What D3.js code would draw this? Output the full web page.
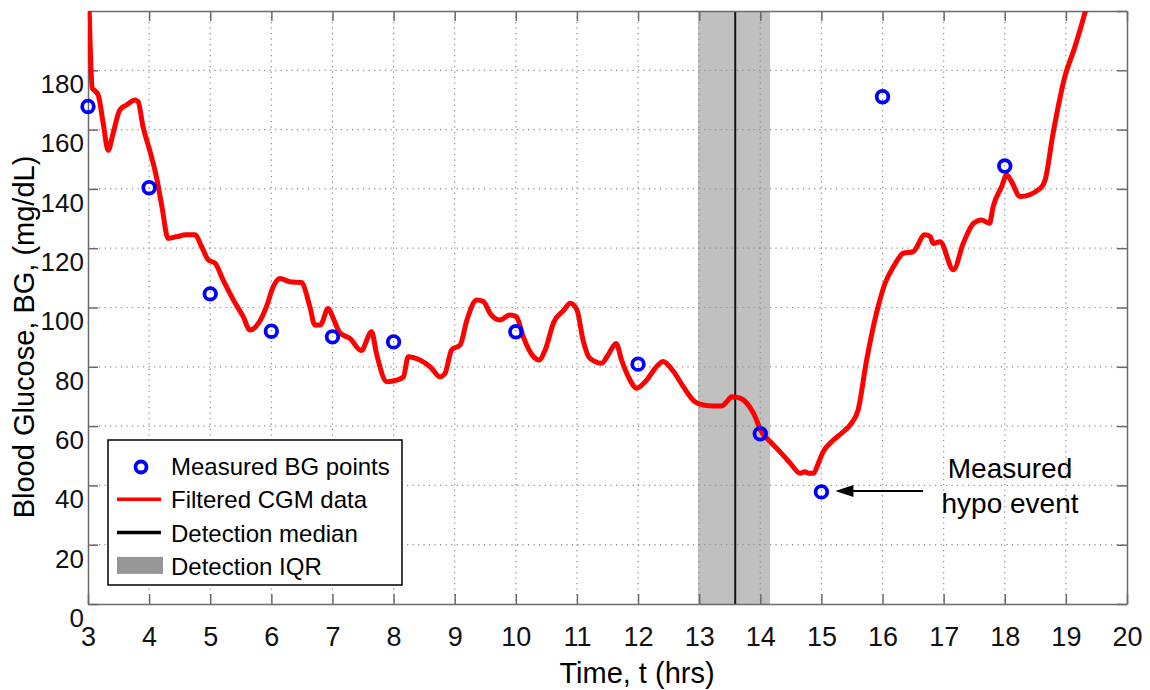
<!DOCTYPE html>
<html>
  <head>
    <meta charset="utf-8">
    <title>Blood glucose and hypo detection</title>
    <script src="https://cdn.jsdelivr.net/npm/d3@7"></script>
    <style>
      body { margin: 0; background: #fff; }
      svg { display: block; font-family: Arial, "Liberation Sans", sans-serif; }
      .grid line { stroke: #8c8c8c; stroke-width: 1.2; stroke-dasharray: 1.2,4.3; }
      .axis path, .axis line { stroke: #6a6a6a; stroke-width: 1.5; }
      .axis text { fill: #111; }
    </style>
  </head>

  <body>
    <svg id="chart" width="1150" height="690"></svg>

    <script>
      // data
      // filtered CGM trace (hours, mg/dL)
      const cgmTime = [3.00, 3.02, 3.05, 3.07, 3.12, 3.17, 3.25, 3.33, 3.41, 3.52, 3.63, 3.77, 3.82, 3.90,
        4.01, 4.12, 4.21, 4.31, 4.45, 4.61, 4.75, 4.86, 4.97, 5.08, 5.21, 5.38, 5.54, 5.65, 5.79, 5.92,
        6.03, 6.14, 6.30, 6.49, 6.63, 6.71, 6.80, 6.93, 7.01, 7.12, 7.29, 7.47, 7.64, 7.72, 7.89,
        8.05, 8.16, 8.24, 8.43, 8.60, 8.76, 8.84, 8.95, 9.09, 9.20, 9.36, 9.47, 9.58, 9.74, 9.90,
        10.01, 10.12, 10.29, 10.38, 10.48, 10.62, 10.79, 10.89, 11.00, 11.10, 11.21, 11.40, 11.51, 11.64,
        11.73, 11.84, 11.98, 12.14, 12.30, 12.41, 12.58, 12.74, 12.93, 13.07, 13.23, 13.37, 13.45, 13.53,
        13.67, 13.78, 13.89, 14.02, 14.16, 14.32, 14.49, 14.65, 14.73, 14.79, 14.87, 14.95, 15.03, 15.17,
        15.33, 15.49, 15.60, 15.74, 15.90, 16.04, 16.18, 16.34, 16.50, 16.69, 16.78, 16.83, 16.94, 17.16,
        17.32, 17.49, 17.62, 17.75, 17.81, 17.95, 18.03, 18.11, 18.25, 18.58, 18.66, 18.79, 18.99, 19.13,
        19.24, 19.40];
      const cgmValue = [215, 200, 180, 174, 173, 171.5, 162, 153, 158.7, 166.6, 168.3, 170, 169.4, 161,
        153, 144, 134, 123.3, 123.9, 124.5, 124.5, 120.5, 116, 114.9, 109.3, 102.5, 96.9, 92.4, 94.7, 100.3,
        107, 109.8, 108.7, 108.4, 100.3, 94.1, 94.1, 99.7, 96.5, 91.5, 89.5, 85.5, 91.8, 84.5, 75,
        75.5, 76.6, 83.4, 82.3, 80, 76.6, 77.7, 85.7, 87.4, 95.8, 102.5, 102, 98, 95.8, 97.5,
        96.9, 90.2, 83.4, 82.3, 85.7, 95, 99.2, 101.4, 99.2, 89, 82.9, 81.2, 84, 87.9,
        82.3, 76.7, 72.8, 75.5, 80, 81.8, 78.4, 73.3, 68.2, 67.1, 66.8, 66.8, 68.2, 69.9,
        69.4, 67.7, 64.3, 58.1, 54.8, 51.4, 47.5, 44.1, 44.6, 44.1, 44.1, 47.5, 51.4, 54.8,
        57.6, 60.9, 65.4, 82.3, 98, 108.1, 113.8, 118.3, 118.8, 124.5, 123.9, 121.6, 122.2, 112.7,
        121.6, 128.4, 129.5, 128.4, 134, 140.8, 144.7, 142.5, 137.4, 140.2, 143, 158.7, 178.4, 186.8,
        194.2, 206];

      // measured BG points
      const bgTime = [3, 4, 5, 6, 7, 8, 10, 12, 14, 15, 16, 18];
      const bgValue = [167.8, 140.4, 104.6, 92, 90.1, 88.4, 91.8, 80.9, 57.4, 37.8, 171.1, 147.7];

      // detection statistics (hours)
      const iqrStart = 12.98;
      const iqrEnd = 14.16;
      const detectionMedian = 13.59;

      // hypo event
      const hypoTime = 15;
      const hypoValue = 37.8;

      const xTicks = d3.range(3, 21);
      const yTicks = d3.range(0, 181, 20);
      const yGrid = d3.range(20, 181, 20);

      const legendLabels = ["Measured BG points", "Filtered CGM data", "Detection median", "Detection IQR"];
      const annotationLines = ["Measured", "hypo event"];

      // layout
      const margin = { top: 11, right: 23, bottom: 86, left: 88 };
      const width = 1150, height = 690;
      const chart = d3.select("#chart");

      const x = d3.scaleLinear()
        .domain([3, 20])
        .range([margin.left, width - margin.right]);
      const y = d3.scaleLinear()
        .domain([0, 200])
        .range([height - margin.bottom, margin.top]);

      chart.append("defs").append("clipPath")
          .attr("id", "plotClip")
        .append("rect")
          .attr("x", x(3))
          .attr("y", y(200))
          .attr("width", x(20) - x(3))
          .attr("height", y(0) - y(200));

      // IQR band
      chart.append("rect")
        .attr("x", x(iqrStart))
        .attr("y", y(200))
        .attr("width", x(iqrEnd) - x(iqrStart))
        .attr("height", y(0) - y(200))
        .attr("fill", "#c0c0c0");

      // grid
      const grid = chart.append("g").attr("class", "grid");
      grid.selectAll(".gx")
        .data(xTicks.slice(1, -1))
        .join("line")
          .attr("x1", d => x(d)).attr("x2", d => x(d))
          .attr("y1", y(200)).attr("y2", y(0));
      grid.selectAll(".gy")
        .data(yGrid)
        .join("line")
          .attr("class", "gy")
          .attr("x1", x(3)).attr("x2", x(20))
          .attr("y1", d => y(d)).attr("y2", d => y(d));

      // detection median
      chart.append("line")
        .attr("x1", x(detectionMedian)).attr("x2", x(detectionMedian))
        .attr("y1", y(200)).attr("y2", y(0))
        .attr("stroke", "#111")
        .attr("stroke-width", 2);

      // axes (MATLAB style box, ticks inside)
      const tickLen = 10;
      const bottomAxis = chart.append("g")
        .attr("class", "axis")
        .attr("transform", `translate(0,${y(0)})`)
        .call(d3.axisBottom(x).tickValues(xTicks).tickFormat(d3.format("d"))
          .tickSizeInner(-tickLen).tickSizeOuter(0).tickPadding(23));
      bottomAxis.selectAll("text").style("font-size", "27px");

      const leftAxis = chart.append("g")
        .attr("class", "axis")
        .attr("transform", `translate(${x(3)},0)`)
        .call(d3.axisLeft(y).tickValues(yTicks).tickFormat(d3.format("d"))
          .tickSizeInner(-tickLen).tickSizeOuter(0).tickPadding(4));
      leftAxis.selectAll("text")
        .style("font-size", "26px")
        .attr("y", 14);

      chart.append("g")
        .attr("class", "axis")
        .attr("transform", `translate(0,${y(200)})`)
        .call(d3.axisTop(x).tickValues(xTicks).tickFormat("")
          .tickSizeInner(-tickLen).tickSizeOuter(0));
      chart.append("g")
        .attr("class", "axis")
        .attr("transform", `translate(${x(20)},0)`)
        .call(d3.axisRight(y).tickValues(yTicks.concat([200])).tickFormat("")
          .tickSizeInner(-tickLen).tickSizeOuter(0));

      // CGM trace
      const cgm = cgmTime.map((t, i) => [t, cgmValue[i]]);
      chart.append("path")
        .datum(cgm)
        .attr("clip-path", "url(#plotClip)")
        .attr("fill", "none")
        .attr("stroke", "#ff0000")
        .attr("stroke-width", 5)
        .attr("stroke-linejoin", "round")
        .attr("stroke-linecap", "round")
        .attr("d", d3.line().curve(d3.curveMonotoneX).x(d => x(d[0])).y(d => y(d[1])));

      // measured BG points
      chart.append("g")
        .selectAll("circle")
        .data(bgTime.map((t, i) => [t, bgValue[i]]))
        .join("circle")
          .attr("cx", d => x(d[0]))
          .attr("cy", d => y(d[1]))
          .attr("r", 5.8)
          .attr("fill", "none")
          .attr("stroke", "#0000ff")
          .attr("stroke-width", 3.8);

      // axis titles
      chart.append("text")
        .attr("x", 637)
        .attr("y", 683)
        .attr("text-anchor", "middle")
        .style("font-size", "29px")
        .text("Time, t (hrs)");
      chart.append("text")
        .attr("transform", "translate(34,337) rotate(-90)")
        .attr("text-anchor", "middle")
        .style("font-size", "29px")
        .text("Blood Glucose, BG, (mg/dL)");

      // legend
      const legend = chart.append("g").attr("transform", "translate(108,440)");
      legend.append("rect")
        .attr("width", 294).attr("height", 145)
        .attr("fill", "#fff").attr("stroke", "#000").attr("stroke-width", 1.5);
      const rowY = i => 27 + i * 33.3;
      legend.append("circle")
        .attr("cx", 33).attr("cy", rowY(0))
        .attr("r", 5.5).attr("fill", "none")
        .attr("stroke", "#0000ff").attr("stroke-width", 3.8);
      legend.append("line")
        .attr("x1", 9).attr("x2", 53).attr("y1", rowY(1) - 1).attr("y2", rowY(1) - 1)
        .attr("stroke", "#ff0000").attr("stroke-width", 3.5);
      legend.append("line")
        .attr("x1", 9).attr("x2", 53).attr("y1", rowY(2) - 1).attr("y2", rowY(2) - 1)
        .attr("stroke", "#000").attr("stroke-width", 3.5);
      legend.append("rect")
        .attr("x", 9).attr("y", rowY(3) - 10).attr("width", 46).attr("height", 17)
        .attr("fill", "#969696");
      legend.selectAll(".label")
        .data(legendLabels)
        .join("text")
          .attr("x", 63)
          .attr("y", (d, i) => rowY(i) + 8)
          .style("font-size", "24px")
          .text(d => d);

      // annotation
      const arrowY = y(hypoValue) - 1;
      chart.append("line")
        .attr("x1", 923).attr("x2", x(hypoTime) + 30)
        .attr("y1", arrowY).attr("y2", arrowY)
        .attr("stroke", "#000").attr("stroke-width", 2);
      chart.append("path")
        .attr("d", `M${x(hypoTime) + 14},${arrowY} l18,-6 l0,12 Z`)
        .attr("fill", "#000");
      chart.selectAll(".note")
        .data(annotationLines)
        .join("text")
          .attr("x", 1010)
          .attr("y", (d, i) => 478 + i * 35)
          .attr("text-anchor", "middle")
          .style("font-size", "28px")
          .text(d => d);
    </script>
  </body>
</html>
